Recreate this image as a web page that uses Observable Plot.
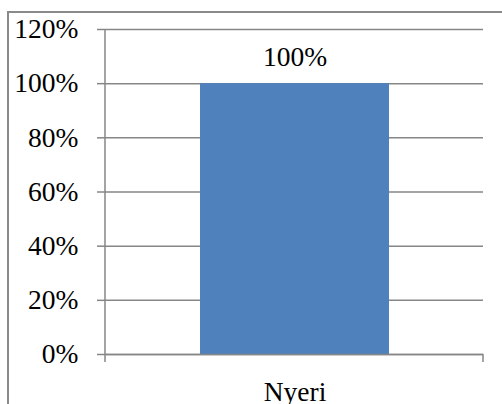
<!DOCTYPE html>
<html>
<head>
<meta charset="utf-8">
<script src="https://cdn.jsdelivr.net/npm/d3@7"></script>
<script src="https://cdn.jsdelivr.net/npm/@observablehq/plot@0.6"></script>
<style>
  html, body { margin: 0; padding: 0; background: #fff; overflow: hidden; }
  #chart { position: absolute; left: 0; top: 0; width: 502px; height: 404px; overflow: hidden; }
</style>
</head>
<body>
<div id="chart"></div>
<script>
const categories = ["Nyeri"];
const values = [1.0];
const yTicks = [0, 0.2, 0.4, 0.6, 0.8, 1.0, 1.2];

const data = categories.map((c, i) => ({category: c, value: values[i]}));
const gridColor = "#868686";
const fmt = d3.format(".0%");
const fs = 27.5;

const chart = Plot.plot({
  width: 502,
  height: 404,
  marginLeft: 105,
  marginRight: 19,
  marginTop: 29,
  marginBottom: 50,
  style: {fontFamily: "'Liberation Serif', 'Times New Roman', serif", fontSize: fs + "px", color: "#000", background: "transparent"},
  x: {domain: categories, padding: 1/3, axis: null, label: null},
  y: {domain: [0, 1.2], axis: null, label: null},
  marks: [
    Plot.gridY(yTicks, {stroke: gridColor, strokeOpacity: 1, strokeWidth: 1.5}),
    Plot.axisY(yTicks, {tickFormat: fmt, tickSize: 8, tickPadding: 19, stroke: gridColor, strokeWidth: 1.5, strokeOpacity: 1, fill: "#000", fontSize: fs, label: null}),
    Plot.axisX(categories, {tickSize: 0, tickPadding: 27, fill: "#000", fontSize: fs, label: null}),
    Plot.barY(data, {x: "category", y: "value", fill: "#4F81BD"}),
    Plot.ruleY([0], {stroke: gridColor, strokeWidth: 1.5}),
    Plot.text(data, {x: "category", y: "value", text: d => fmt(d.value), lineAnchor: "bottom", dy: -18, fill: "#000", fontSize: fs})
  ]
});

// Excel-style axis line and category-boundary ticks, positioned from the Plot scales
const xs = chart.scale("x");
const ys = chart.scale("y");
const yScale = d3.scaleLinear().domain(ys.domain).range(ys.range);
const x0 = xs.range[0], x1 = xs.range[1];
const yBase = yScale(0), yTop = yScale(ys.domain[1]);
const svg = d3.select(chart);
const g = svg.append("g").attr("stroke", gridColor).attr("stroke-width", 1.5);
g.append("line").attr("x1", x0).attr("x2", x0).attr("y1", yTop).attr("y2", yBase + 8);
g.append("line").attr("x1", x1).attr("x2", x1).attr("y1", yBase).attr("y2", yBase + 8);

// outer chart-area border (cropped at right and bottom, as in the reference)
const b = svg.append("g").attr("stroke", "#8a8a8a").attr("stroke-width", 2).attr("fill", "none");
b.append("path").attr("d", "M8,404V12H502");

document.getElementById("chart").append(chart);
</script>
</body>
</html>
